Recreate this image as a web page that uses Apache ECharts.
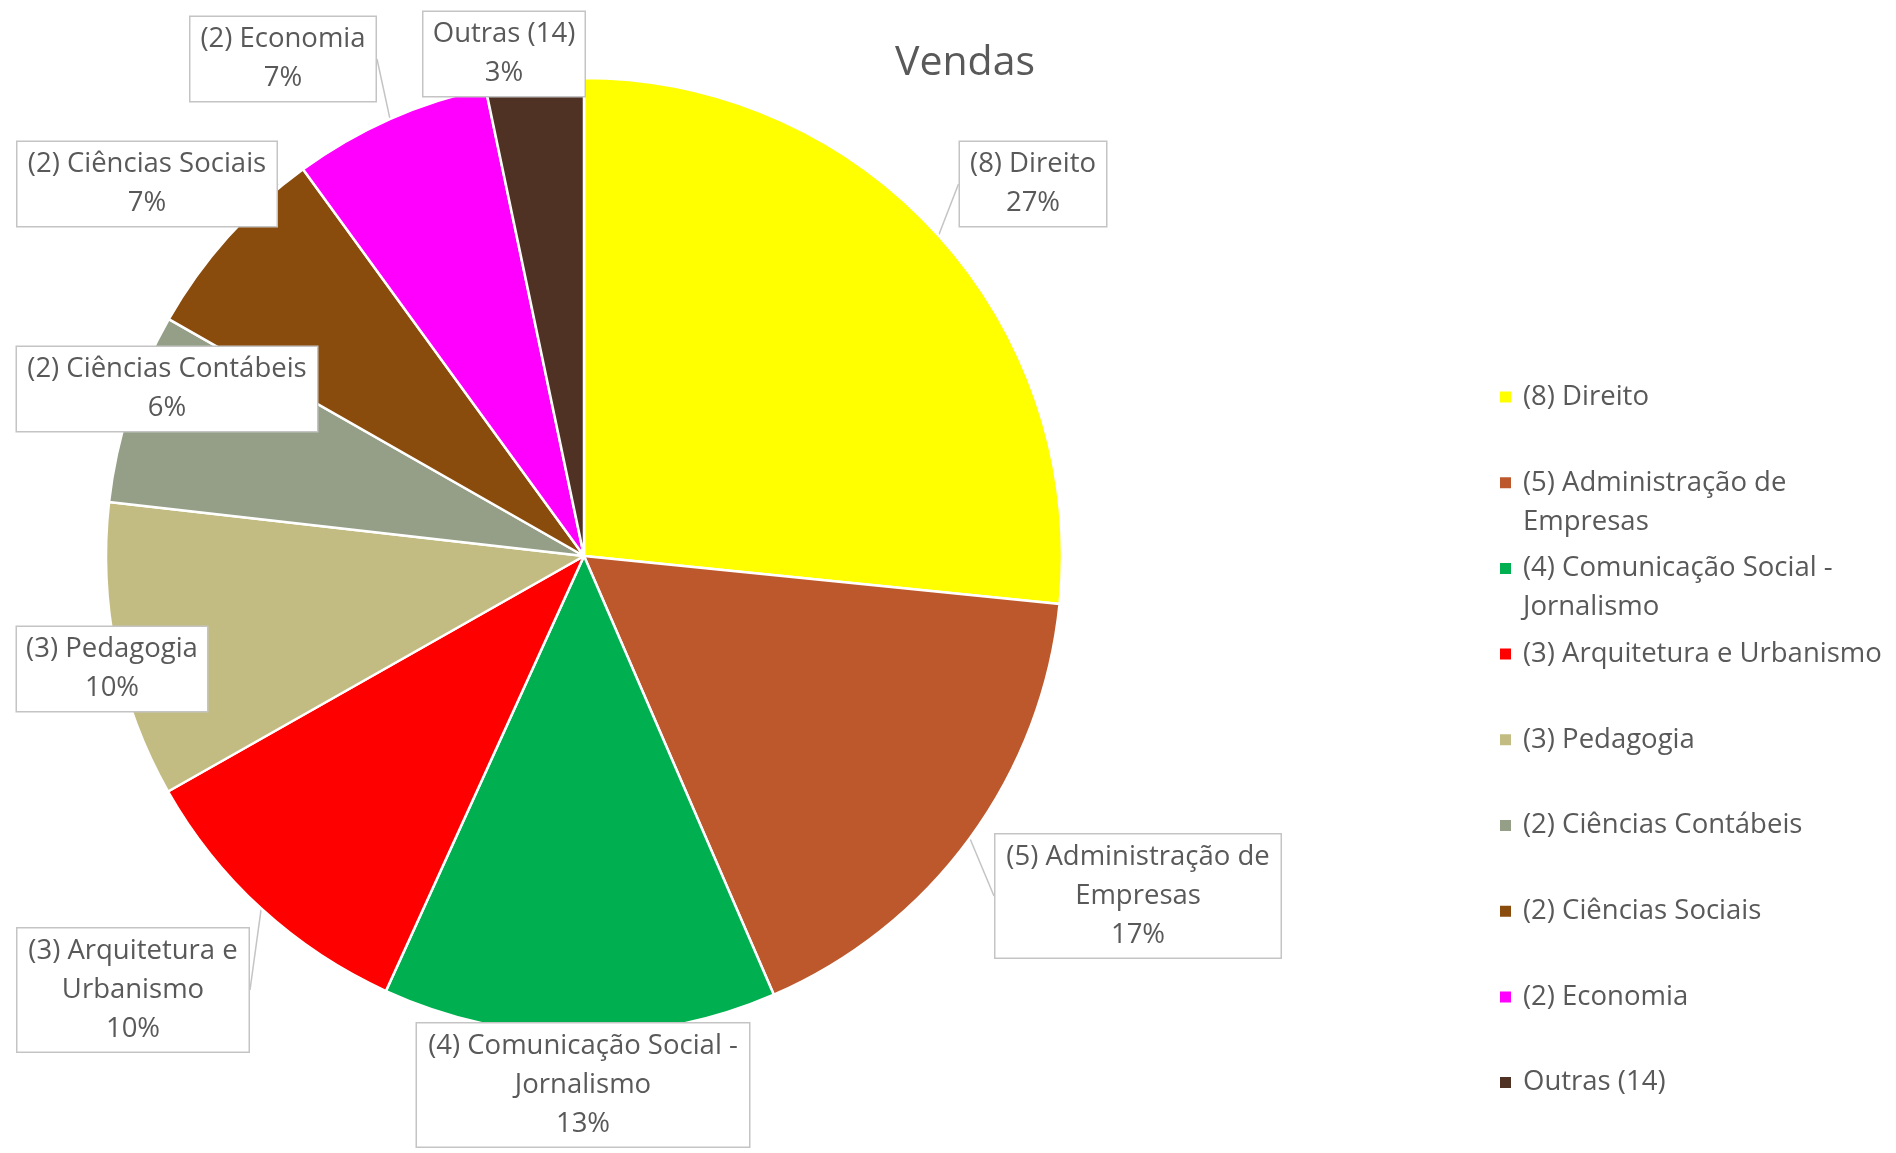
<!DOCTYPE html>
<html>
<head>
<meta charset="utf-8">
<script src="https://cdn.jsdelivr.net/npm/echarts@6/dist/echarts.min.js"></script>
<style>
    html, body { margin: 0; padding: 0; background: #fff; }
    #chart { width: 1896px; height: 1153px; }
</style>
</head>
<body>
<div id="chart"></div>
<script>
// dados (percentuais de vendas)
var categories = ['(8) Direito', '(5) Administração de Empresas', '(4) Comunicação Social - Jornalismo',
    '(3) Arquitetura e Urbanismo', '(3) Pedagogia', '(2) Ciências Contábeis', '(2) Ciências Sociais',
    '(2) Economia', 'Outras (14)'];
var values = [26.6, 16.9, 13.3, 10.0, 10.0, 6.45, 6.75, 6.7, 3.3];
var labelText = ['(8) Direito', '(5) Administração de\nEmpresas', '(4) Comunicação Social -\nJornalismo',
    '(3) Arquitetura e\nUrbanismo', '(3) Pedagogia', '(2) Ciências Contábeis', '(2) Ciências Sociais',
    '(2) Economia', 'Outras (14)'];
var legendText = ['(8) Direito', '(5) Administração de\nEmpresas', '(4) Comunicação Social -\nJornalismo',
    '(3) Arquitetura e Urbanismo', '(3) Pedagogia', '(2) Ciências Contábeis', '(2) Ciências Sociais',
    '(2) Economia', 'Outras (14)'];

var colors = ['#FFFF00', '#BD582C', '#00B050', '#FF0000', '#C3BC82', '#959F87', '#8A4C0C', '#FF00FF', '#4F3223'];
var textColor = '#595959';
var font = 'Open Sans';

// caixas dos rótulos: centro x, centro y, largura, com linha guia
var labelBoxes = [
    [1033, 184, 149, true],
    [1138, 896, 288, true],
    [583, 1085, 335, false],
    [133, 990, 234, true],
    [112, 669, 193, false],
    [167, 389, 303, false],
    [147, 184, 262, true],
    [283, 59, 188, true],
    [504, 54, 164, false]
];

var myChart = echarts.init(document.getElementById('chart'));

var lh = 39;
var blank = '\u00a0';
var option = {
    animation: false,
    backgroundColor: '#ffffff',
    title: {
        text: 'Vendas',
        left: 895,
        top: 38,
        padding: 0,
        textStyle: {
            fontFamily: font,
            fontSize: 41,
            fontWeight: 'normal',
            lineHeight: 50,
            color: textColor
        }
    },
    legend: {
        orient: 'vertical',
        left: 1498,
        top: 340 - 1.5 * (lh - 38),
        padding: 0,
        icon: 'rect',
        itemWidth: 13,
        itemHeight: 13,
        itemGap: 85.7 - 3 * lh,
        data: categories,
        // três linhas por item: vazia, primeira linha (ao lado do marcador), segunda linha ou vazia
        formatter: function(name) {
            var lines = legendText[categories.indexOf(name)].split('\n');
            return blank + '\n' + lines[0] + '\n' + (lines[1] || blank);
        },
        textStyle: {
            fontFamily: font,
            fontSize: 27.5,
            lineHeight: lh,
            color: textColor,
            padding: [0, 0, 0, 6]
        }
    },
    series: [{
        type: 'pie',
        center: [584, 556],
        radius: 478,
        startAngle: 90,
        clockwise: true,
        avoidLabelOverlap: false,
        itemStyle: {
            borderColor: '#ffffff',
            borderWidth: 2.5
        },
        label: {
            show: true,
            position: 'outside',
            formatter: function(p) {
                return labelText[p.dataIndex] + '\n' + Math.round(p.percent) + '%';
            },
            fontFamily: font,
            fontSize: 27.5,
            lineHeight: lh,
            color: textColor,
            align: 'center',
            backgroundColor: '#ffffff',
            borderColor: '#c4c4c4',
            borderWidth: 1.5,
            padding: [3, 8]
        },
        labelLine: {
            show: true,
            length: 10,
            length2: 0,
            lineStyle: { color: '#c4c4c4', width: 1.5 }
        },
        labelLayout: function(params) {
            var b = labelBoxes[params.dataIndex];
            return { x: b[0], y: b[1], align: 'center', verticalAlign: 'middle' };
        },
        data: categories.map(function(name, i) {
            return {
                name: name,
                value: values[i],
                itemStyle: { color: colors[i] },
                label: { width: labelBoxes[i][2] - 19 },
                labelLine: { show: labelBoxes[i][3] }
            };
        })
    }]
};

myChart.setOption(option);
</script>
</body>
</html>
